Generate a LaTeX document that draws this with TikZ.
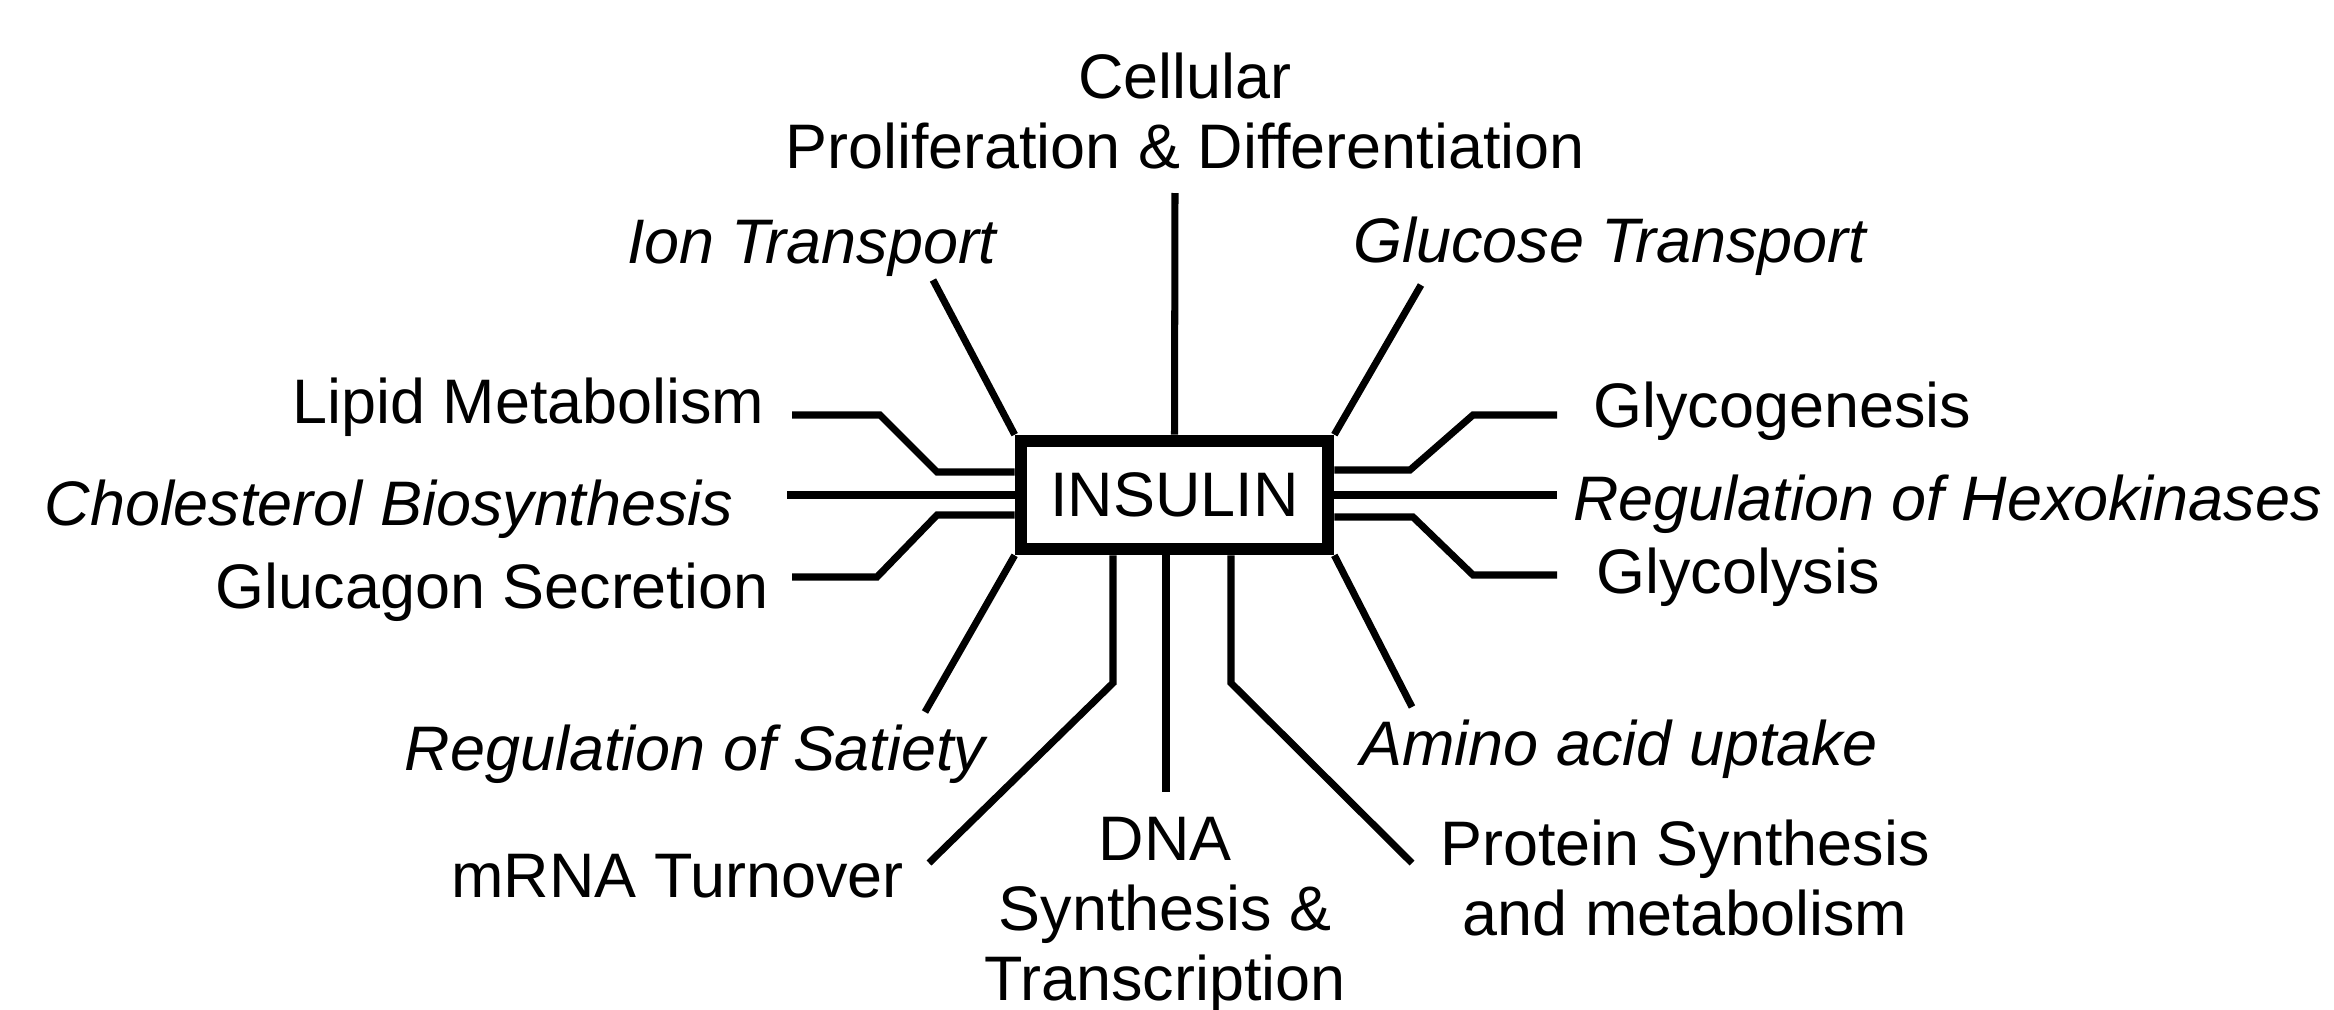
\documentclass[tikz,border=0pt]{standalone}
\usepackage{fontspec}
\setmainfont{Liberation Sans}

\begin{document}
\begin{tikzpicture}[line width=2pt,
  lbl/.style={inner sep=0pt, font=\fontsize{17.9pt}{19.9pt}\selectfont},
  ital/.style={lbl, font=\fontsize{17.9pt}{19.9pt}\selectfont\itshape}]
  \useasboundingbox (0,0) rectangle (23.34,-10.10);
  \node[draw, lbl, line width=3.6pt, minimum width=3.07cm, minimum height=1.08cm] (ins) at (11.745,-4.95) {INSULIN};
  % labels
  \node[lbl, align=center] (cell) at (11.85,-1.11) {Cellular\\Proliferation \& Differentiation};
  \node[ital, anchor=base east] (ion) at (10.00,-2.63) {Ion Transport};
  \node[ital, anchor=base west] (gluc) at (13.50,-2.62) {Glucose Transport};
  \node[lbl, anchor=base east] (lipid) at (7.68,-4.23) {Lipid Metabolism};
  \node[ital, anchor=base east] (chol) at (7.37,-5.25) {Cholesterol Biosynthesis};
  \node[lbl, anchor=base east] (glucagon) at (7.72,-6.08) {Glucagon Secretion};
  \node[lbl, anchor=base west] (glycogen) at (15.90,-4.27) {Glycogenesis};
  \node[ital, anchor=base west] (hexo) at (15.70,-5.20) {Regulation of Hexokinases};
  \node[lbl, anchor=base west] (glycol) at (15.93,-5.93) {Glycolysis};
  \node[ital, anchor=base east] (satiety) at (9.89,-7.70) {Regulation of Satiety};
  \node[ital, anchor=base west] (amino) at (13.57,-7.65) {Amino acid uptake};
  \node[lbl, anchor=base east] (mrna) at (9.07,-8.97) {mRNA Turnover};
  \node[lbl, align=center] (dna) at (11.65,-9.15) {DNA\\Synthesis \&\\Transcription};
  \node[lbl, align=center] (prot) at (16.85,-8.78) {Protein Synthesis\\and metabolism};
  % top
  \coordinate (cell0) at (11.75,-1.93);
  \coordinate (ion0) at (9.33,-2.80);
  \coordinate (gluc0) at (14.21,-2.85);
  \draw (cell0) -- (ins.north);
  \draw (ion0) -- (ins.north west);
  \draw (gluc0) -- (ins.north east);
  % left
  \coordinate (lip0) at (7.92,-4.15);
  \coordinate (lip1) at (8.80,-4.15);
  \coordinate (lip2) at (9.37,-4.72);
  \coordinate (chol0) at (7.87,-4.95);
  \coordinate (gcg0) at (7.92,-5.77);
  \coordinate (gcg1) at (8.77,-5.77);
  \coordinate (gcg2) at (9.37,-5.15);
  \draw (lip0) -- (lip1) -- (lip2) -- (ins.west |- lip2);
  \draw (chol0) -- (ins.west |- chol0);
  \draw (gcg0) -- (gcg1) -- (gcg2) -- (ins.west |- gcg2);
  % right
  \coordinate (gly0) at (15.57,-4.15);
  \coordinate (gly1) at (14.73,-4.15);
  \coordinate (gly2) at (14.10,-4.70);
  \coordinate (hex0) at (15.57,-4.95);
  \coordinate (glc0) at (15.57,-5.75);
  \coordinate (glc1) at (14.73,-5.75);
  \coordinate (glc2) at (14.13,-5.17);
  \draw (gly0) -- (gly1) -- (gly2) -- (ins.east |- gly2);
  \draw (hex0) -- (ins.east |- hex0);
  \draw (glc0) -- (glc1) -- (glc2) -- (ins.east |- glc2);
  % bottom
  \coordinate (sat0) at (9.25,-7.12);
  \coordinate (ami0) at (14.12,-7.07);
  \coordinate (mr1) at (11.13,-6.83);
  \coordinate (mr0) at (9.29,-8.63);
  \coordinate (dna0) at (11.66,-7.92);
  \coordinate (pr1) at (12.31,-6.83);
  \coordinate (pr0) at (14.12,-8.63);
  \draw (ins.south west) -- (sat0);
  \draw (ins.south east) -- (ami0);
  \draw (ins.south -| mr1) -- (mr1) -- (mr0);
  \draw (ins.south -| dna0) -- (dna0);
  \draw (ins.south -| pr1) -- (pr1) -- (pr0);
\end{tikzpicture}
\end{document}
